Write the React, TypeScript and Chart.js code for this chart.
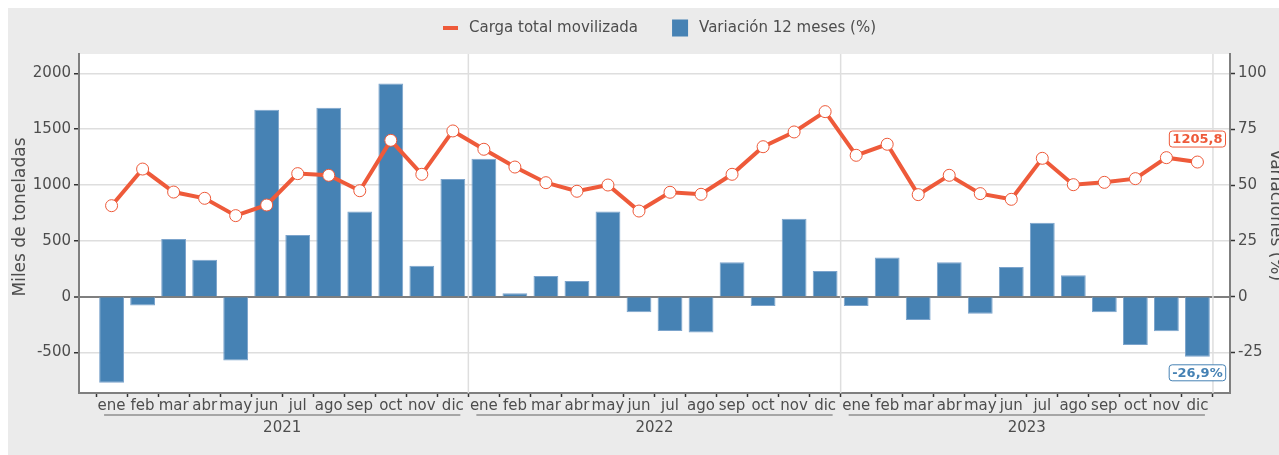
import React, { useEffect, useRef } from 'react';
import { Chart, registerables } from 'chart.js';

Chart.register(...registerables);

const months = ['ene', 'feb', 'mar', 'abr', 'may', 'jun', 'jul', 'ago', 'sep', 'oct', 'nov', 'dic'];
const years = ['2021', '2022', '2023'];

const cargaTotal = [
  815, 1143, 937, 881, 726, 821, 1102, 1087, 949, 1400, 1096, 1484,
  1320, 1161, 1021, 944, 1000, 767, 935, 917, 1096, 1343, 1475, 1657,
  1266, 1365, 914, 1087, 923, 872, 1239, 1003, 1024, 1057, 1245, 1205.8,
];

const variacion = [
  -38.5, -3.9, 25.8, 16.6, -28.5, 83.7, 27.6, 84.6, 38.1, 95.4, 13.9, 52.7,
  61.8, 1.5, 9.3, 7.0, 38.2, -6.9, -15.4, -16.0, 15.4, -4.2, 34.9, 11.5,
  -4.2, 17.6, -10.4, 15.4, -7.6, 13.3, 33.1, 9.6, -6.9, -21.6, -15.5, -26.9,
];

const leftTicks = [-500, 0, 500, 1000, 1500, 2000];
const rightTicks = [-25, 0, 25, 50, 75, 100];

const lineLabel = 'Carga total movilizada';
const barLabel = 'Variación 12 meses (%)';
const leftTitle = 'Miles de toneladas';
const rightTitle = 'Variaciones (%)';

const FONT = "'DejaVu Sans', 'Liberation Sans', sans-serif";
const TEXT = '#4D4D4D';
const RED = '#EE5A3A';
const BLUE = '#4682B4';
const GRID = '#DEDEDE';
const AXIS = '#7F7F7F';

const categoryLabels = years.flatMap(() => months);

function fmt(v: number, suffix = '') {
  return v.toFixed(1).replace('.', ',') + suffix;
}

function roundRect(ctx: CanvasRenderingContext2D, x: number, y: number, w: number, h: number, r: number) {
  ctx.beginPath();
  ctx.moveTo(x + r, y);
  ctx.lineTo(x + w - r, y);
  ctx.arcTo(x + w, y, x + w, y + r, r);
  ctx.lineTo(x + w, y + h - r);
  ctx.arcTo(x + w, y + h, x + w - r, y + h, r);
  ctx.lineTo(x + r, y + h);
  ctx.arcTo(x, y + h, x, y + h - r, r);
  ctx.lineTo(x, y + r);
  ctx.arcTo(x, y, x + r, y, r);
  ctx.closePath();
}

function drawTag(ctx: CanvasRenderingContext2D, text: string, cx: number, cy: number, color: string) {
  ctx.save();
  ctx.font = `bold 13px ${FONT}`;
  const w = ctx.measureText(text).width + 6;
  const h = 16;
  roundRect(ctx, cx - w / 2, cy - h / 2, w, h, 3);
  ctx.fillStyle = '#FFFFFF';
  ctx.fill();
  ctx.lineWidth = 1;
  ctx.strokeStyle = color;
  ctx.stroke();
  ctx.fillStyle = color;
  ctx.textAlign = 'center';
  ctx.textBaseline = 'middle';
  ctx.fillText(text, cx, cy + 0.5);
  ctx.restore();
}

const decorPlugin = {
  id: 'decor',
  beforeDraw(chart: any) {
    const { ctx, chartArea: a, width, height } = chart;
    ctx.save();
    ctx.fillStyle = '#EBEBEB';
    ctx.fillRect(0, 0, width, height);
    ctx.fillStyle = '#FFFFFF';
    ctx.fillRect(a.left, a.top, a.right - a.left, a.bottom - a.top);
    ctx.restore();
  },
  beforeDatasetsDraw(chart: any) {
    const { ctx, chartArea: a } = chart;
    const xs = chart.scales.x;
    ctx.save();
    ctx.strokeStyle = GRID;
    ctx.lineWidth = 1.5;
    years.forEach((_, yi) => {
      const px = xs.getPixelForValue((yi + 1) * months.length - 0.5);
      ctx.beginPath();
      ctx.moveTo(px, a.top);
      ctx.lineTo(px, a.bottom);
      ctx.stroke();
    });
    ctx.restore();
  },
  afterDatasetsDraw(chart: any) {
    const { ctx } = chart;
    const last = cargaTotal.length - 1;
    const pt = chart.getDatasetMeta(0).data[last];
    const bar = chart.getDatasetMeta(1).data[last];
    drawTag(ctx, fmt(cargaTotal[last]), pt.x, pt.y - 23, RED);
    const bv = variacion[last];
    drawTag(ctx, fmt(bv, '%'), bar.x, bv < 0 ? bar.y + 16 : bar.y - 16, BLUE);
  },
  afterDraw(chart: any) {
    const { ctx } = chart;
    const xs = chart.scales.x;
    ctx.save();
    // year groups
    ctx.strokeStyle = '#A6A6A6';
    ctx.lineWidth = 2;
    ctx.fillStyle = TEXT;
    ctx.font = `15px ${FONT}`;
    ctx.textAlign = 'center';
    ctx.textBaseline = 'middle';
    years.forEach((yr, yi) => {
      const x0 = xs.getPixelForValue(yi * months.length) - 7.5;
      const x1 = xs.getPixelForValue(yi * months.length + months.length - 1) + 7.5;
      const ly = xs.top + 22;
      ctx.beginPath();
      ctx.moveTo(x0, ly);
      ctx.lineTo(x1, ly);
      ctx.stroke();
      ctx.fillText(yr, (x0 + x1) / 2, xs.top + 35);
    });

    // axis titles
    ctx.font = `17px ${FONT}`;
    ctx.save();
    ctx.translate(13, 209);
    ctx.rotate(-Math.PI / 2);
    ctx.fillText(leftTitle, 0, 0);
    ctx.restore();
    ctx.save();
    ctx.translate(1267, 207);
    ctx.rotate(Math.PI / 2);
    ctx.fillText(rightTitle, 0, 0);
    ctx.restore();

    // legend
    const ds = chart.data.datasets;
    const cy = 20;
    let x = 435;
    ctx.font = `15px ${FONT}`;
    ctx.textAlign = 'left';
    ctx.strokeStyle = RED;
    ctx.lineWidth = 4;
    ctx.beginPath();
    ctx.moveTo(x, cy);
    ctx.lineTo(x + 15, cy);
    ctx.stroke();
    x += 26;
    ctx.fillStyle = TEXT;
    ctx.fillText(ds[0].label, x, cy);
    x += ctx.measureText(ds[0].label).width + 34;
    ctx.fillStyle = BLUE;
    ctx.fillRect(x, cy - 8.5, 16, 17);
    x += 27;
    ctx.fillStyle = TEXT;
    ctx.fillText(ds[1].label, x, cy);
    ctx.restore();
  },
};

const W = 1280;
const H = 447;

export default function App() {
  const ref = useRef<HTMLCanvasElement | null>(null);

  useEffect(() => {
    document.documentElement.style.overflow = 'hidden';
    document.body.style.overflow = 'hidden';
    if (!ref.current) return;
    const tickFont = { family: FONT, size: 15 };
    const chart = new Chart(ref.current, {
      type: 'bar',
      data: {
        datasets: [
          {
            type: 'line',
            label: lineLabel,
            data: cargaTotal.map((v, i) => ({ x: i, y: v })),
            yAxisID: 'y',
            borderColor: RED,
            borderWidth: 4,
            pointRadius: 6,
            pointBorderWidth: 1,
            pointBackgroundColor: '#FFFFFF',
            pointBorderColor: RED,
            tension: 0,
            order: 0,
          } as any,
          {
            type: 'bar',
            label: barLabel,
            data: variacion.map((v, i) => ({ x: i, y: v })),
            yAxisID: 'y2',
            backgroundColor: BLUE,
            borderColor: '#7CA4CC',
            borderWidth: 1,
            categoryPercentage: 1,
            barPercentage: 0.8,
            order: 1,
          } as any,
        ],
      },
      options: {
        animation: false,
        responsive: false,
        maintainAspectRatio: false,
        layout: { padding: { top: 46, left: 0, right: 0, bottom: 0 } },
        plugins: { legend: { display: false }, tooltip: { enabled: false }, title: { display: false } },
        scales: {
          x: {
            type: 'linear',
            position: 'bottom',
            min: -1.05,
            max: cargaTotal.length - 1 + 1.05,
            offset: false,
            afterFit: (s: any) => { s.height = 62; },
            afterBuildTicks: (s: any) => {
              s.ticks = categoryLabels.map((_, i) => ({ value: i }));
            },
            ticks: {
              autoSkip: false,
              maxRotation: 0,
              minRotation: 0,
              padding: 0,
              color: TEXT,
              font: tickFont,
              callback: (v: any) => categoryLabels[Math.round(Number(v))] ?? '',
            },
            grid: {
              drawOnChartArea: false,
              drawTicks: true,
              tickLength: 4,
              tickColor: '#333333',
              tickWidth: 1.5,
            },
            border: { display: true, color: AXIS, width: 2 },
          },
          y: {
            type: 'linear',
            position: 'left',
            min: -862,
            max: 2173,
            afterFit: (s: any) => { s.width = 71; },
            afterBuildTicks: (s: any) => {
              s.ticks = leftTicks.map((v) => ({ value: v }));
            },
            ticks: {
              padding: 3,
              color: TEXT,
              font: tickFont,
              callback: (v: any) => String(v),
            },
            grid: {
              color: (c: any) => (c.tick && c.tick.value === 0 ? AXIS : GRID),
              lineWidth: (c: any) => (c.tick && c.tick.value === 0 ? 2 : 1.5),
              tickLength: 5,
              tickColor: '#333333',
              tickWidth: 1.5,
            },
            border: { display: true, color: AXIS, width: 2 },
          },
          y2: {
            type: 'linear',
            position: 'right',
            min: -43.1,
            max: 108.65,
            afterFit: (s: any) => { s.width = W - 1222; },
            afterBuildTicks: (s: any) => {
              s.ticks = rightTicks.map((v) => ({ value: v }));
            },
            ticks: {
              padding: 3,
              color: TEXT,
              font: tickFont,
              callback: (v: any) => String(v),
            },
            grid: {
              drawOnChartArea: false,
              tickLength: 5,
              tickColor: '#333333',
              tickWidth: 1.5,
            },
            border: { display: true, color: AXIS, width: 2 },
          },
        },
      } as any,
      plugins: [decorPlugin],
    });
    return () => chart.destroy();
  }, []);

  return (
    <>
      <style>{`html,body{overflow:hidden;scrollbar-width:none;} ::-webkit-scrollbar{display:none;width:0;height:0;}`}</style>
      <div style={{ position: 'fixed', left: 8, top: 8, width: W, height: H }}>
        <canvas ref={ref} width={W} height={H} style={{ display: 'block', width: W, height: H }} />
      </div>
    </>
  );
}
